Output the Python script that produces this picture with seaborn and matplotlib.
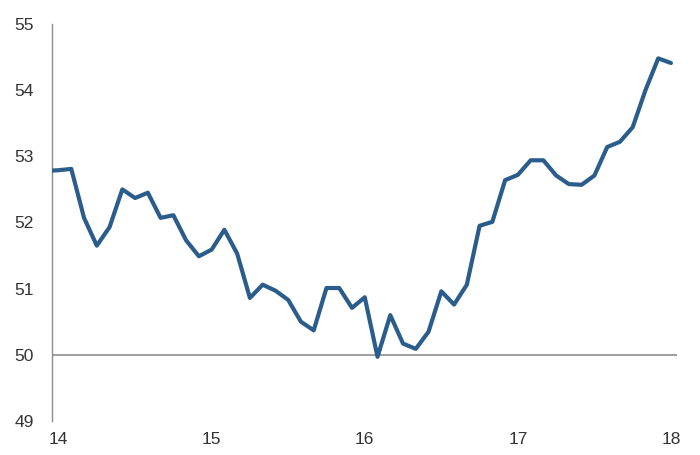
import numpy as np
import pandas as pd
import matplotlib
matplotlib.use("Agg")
import matplotlib.pyplot as plt
import seaborn as sns

# Monthly index readings, Dec 2013 .. Jan 2018
start_year = 14
start_month_offset = -1          # first reading is Dec 2013
values = [
    52.78,                                                        # Dec 13
    52.79, 52.81, 52.07, 51.65, 51.93, 52.50, 52.37, 52.45,       # 2014
    52.07, 52.11, 51.73, 51.49,
    51.59, 51.89, 51.53, 50.86, 51.06, 50.97, 50.83, 50.50,       # 2015
    50.37, 51.01, 51.01, 50.71,
    50.87, 49.97, 50.60, 50.17, 50.09, 50.35, 50.96, 50.76,       # 2016
    51.06, 51.95, 52.01, 52.64,
    52.72, 52.94, 52.94, 52.71, 52.58, 52.57, 52.71, 53.14,       # 2017
    53.22, 53.44, 54.00, 54.48,
    54.41,                                                        # Jan 18
]
x_ticks = [14, 15, 16, 17, 18]
y_ticks = [49, 50, 51, 52, 53, 54, 55]
baseline = 50

df = pd.DataFrame({
    "t": start_year + (np.arange(len(values)) + start_month_offset) / 12,
    "value": values,
})

sns.set_style("white")
plt.rcParams["font.family"] = ["Liberation Sans", "DejaVu Sans"]

fig = plt.figure(figsize=(7, 4.55), dpi=100)
ax = fig.add_axes([0.0743, 0.0747, 0.893, 0.8726])

ax.axhline(baseline, color="#8c8c8c", lw=1.2, zorder=1)
sns.lineplot(data=df, x="t", y="value", ax=ax, color="#2b5d8c", lw=3.0,
             zorder=3, clip_on=True)

ax.set_xlim(13.9575, 18.04)
ax.set_ylim(49, 55)
ax.set_xticks(x_ticks)
ax.set_xticklabels([str(t) for t in x_ticks])
ax.set_yticks(y_ticks)
ax.set_yticklabels([str(t) for t in y_ticks])
ax.set_xlabel("")
ax.set_ylabel("")

for side in ["top", "right", "bottom"]:
    ax.spines[side].set_visible(False)
ax.spines["left"].set_color("#8c8c8c")
ax.spines["left"].set_linewidth(1.0)

ax.tick_params(axis="both", length=0, labelsize=12.5, labelcolor="#333333")
ax.tick_params(axis="y", pad=13)
ax.tick_params(axis="x", pad=8)
ax.grid(False)

fig.savefig("out.png", dpi=100)
